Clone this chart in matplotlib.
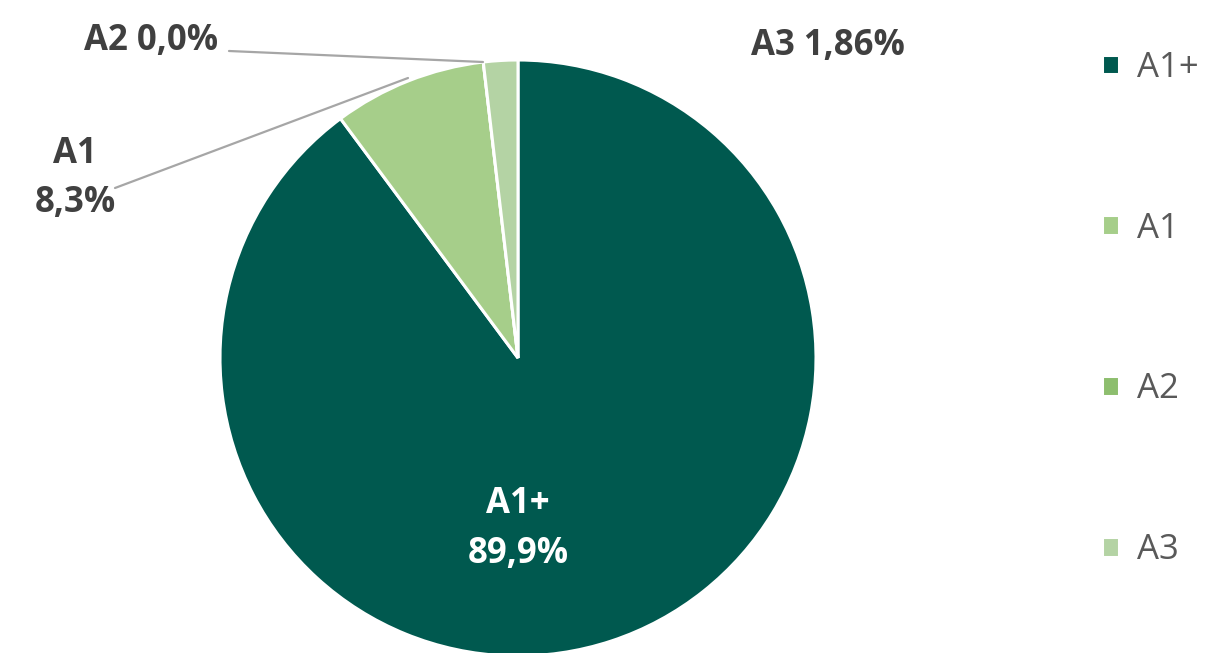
import matplotlib
matplotlib.use("Agg")
import matplotlib.pyplot as plt

categories = ["A1+", "A1", "A2", "A3"]
shares = [89.9, 8.3, 0.0, 1.86]
share_labels = ["89,9%", "8,3%", "0,0%", "1,86%"]
colors = ["#00594F", "#A6CE8A", "#8DBE6E", "#B4D3A4"]

plt.rcParams['font.family'] = ['Open Sans', 'DejaVu Sans']

W, H = 1215, 653
fig = plt.figure(figsize=(W / 100, H / 100), dpi=100)

# pie centre and radius in pixels
cx, cy, r = 518, 358, 298
ax = fig.add_axes([(cx - r) / W, (H - cy - r) / H, 2 * r / W, 2 * r / H])

wedges, _ = ax.pie(shares, colors=colors, startangle=90, counterclock=False,
                   radius=1, wedgeprops=dict(edgecolor="white", linewidth=2.2))
ax.set_xlim(-1, 1)
ax.set_ylim(-1, 1)
ax.axis('off')

def px(x, y):
    # pixel -> data coords of pie axes
    return ((x - cx) / r, (cy - y) / r)

dark = "#404040"
fs = 25
line = dict(arrowstyle="-", color="#A6A6A6", lw=1.6, shrinkA=0, shrinkB=0)
lbl = dict(fontsize=fs, fontweight="bold", ha="center", va="baseline")

# A1+ inside
ax.text(*px(518, 513), categories[0], color="white", **lbl)
ax.text(*px(518, 563), share_labels[0], color="white", **lbl)

# A1 with leader
ax.text(*px(75, 163), categories[1], color=dark, **lbl)
ax.text(*px(75, 212), share_labels[1], color=dark, **lbl)
ax.annotate("", xy=px(408, 78), xytext=px(115, 188), arrowprops=line, annotation_clip=False)

# A2 with leader
ax.text(*px(151, 50), categories[2] + " " + share_labels[2], color=dark, **lbl)
ax.annotate("", xy=px(483, 62), xytext=px(229, 51), arrowprops=line, annotation_clip=False)

# A3 label
ax.text(*px(828, 55), categories[3] + " " + share_labels[3], color=dark, **lbl)

fig.legend(wedges, categories, loc="center left", bbox_to_anchor=(1102 / W, 0.527),
           frameon=False, fontsize=25, labelcolor="#595959",
           handlelength=0.5, handleheight=0.5, handletextpad=0.5,
           labelspacing=3.65, borderpad=0, borderaxespad=0)

fig.savefig("out.png", dpi=100)
